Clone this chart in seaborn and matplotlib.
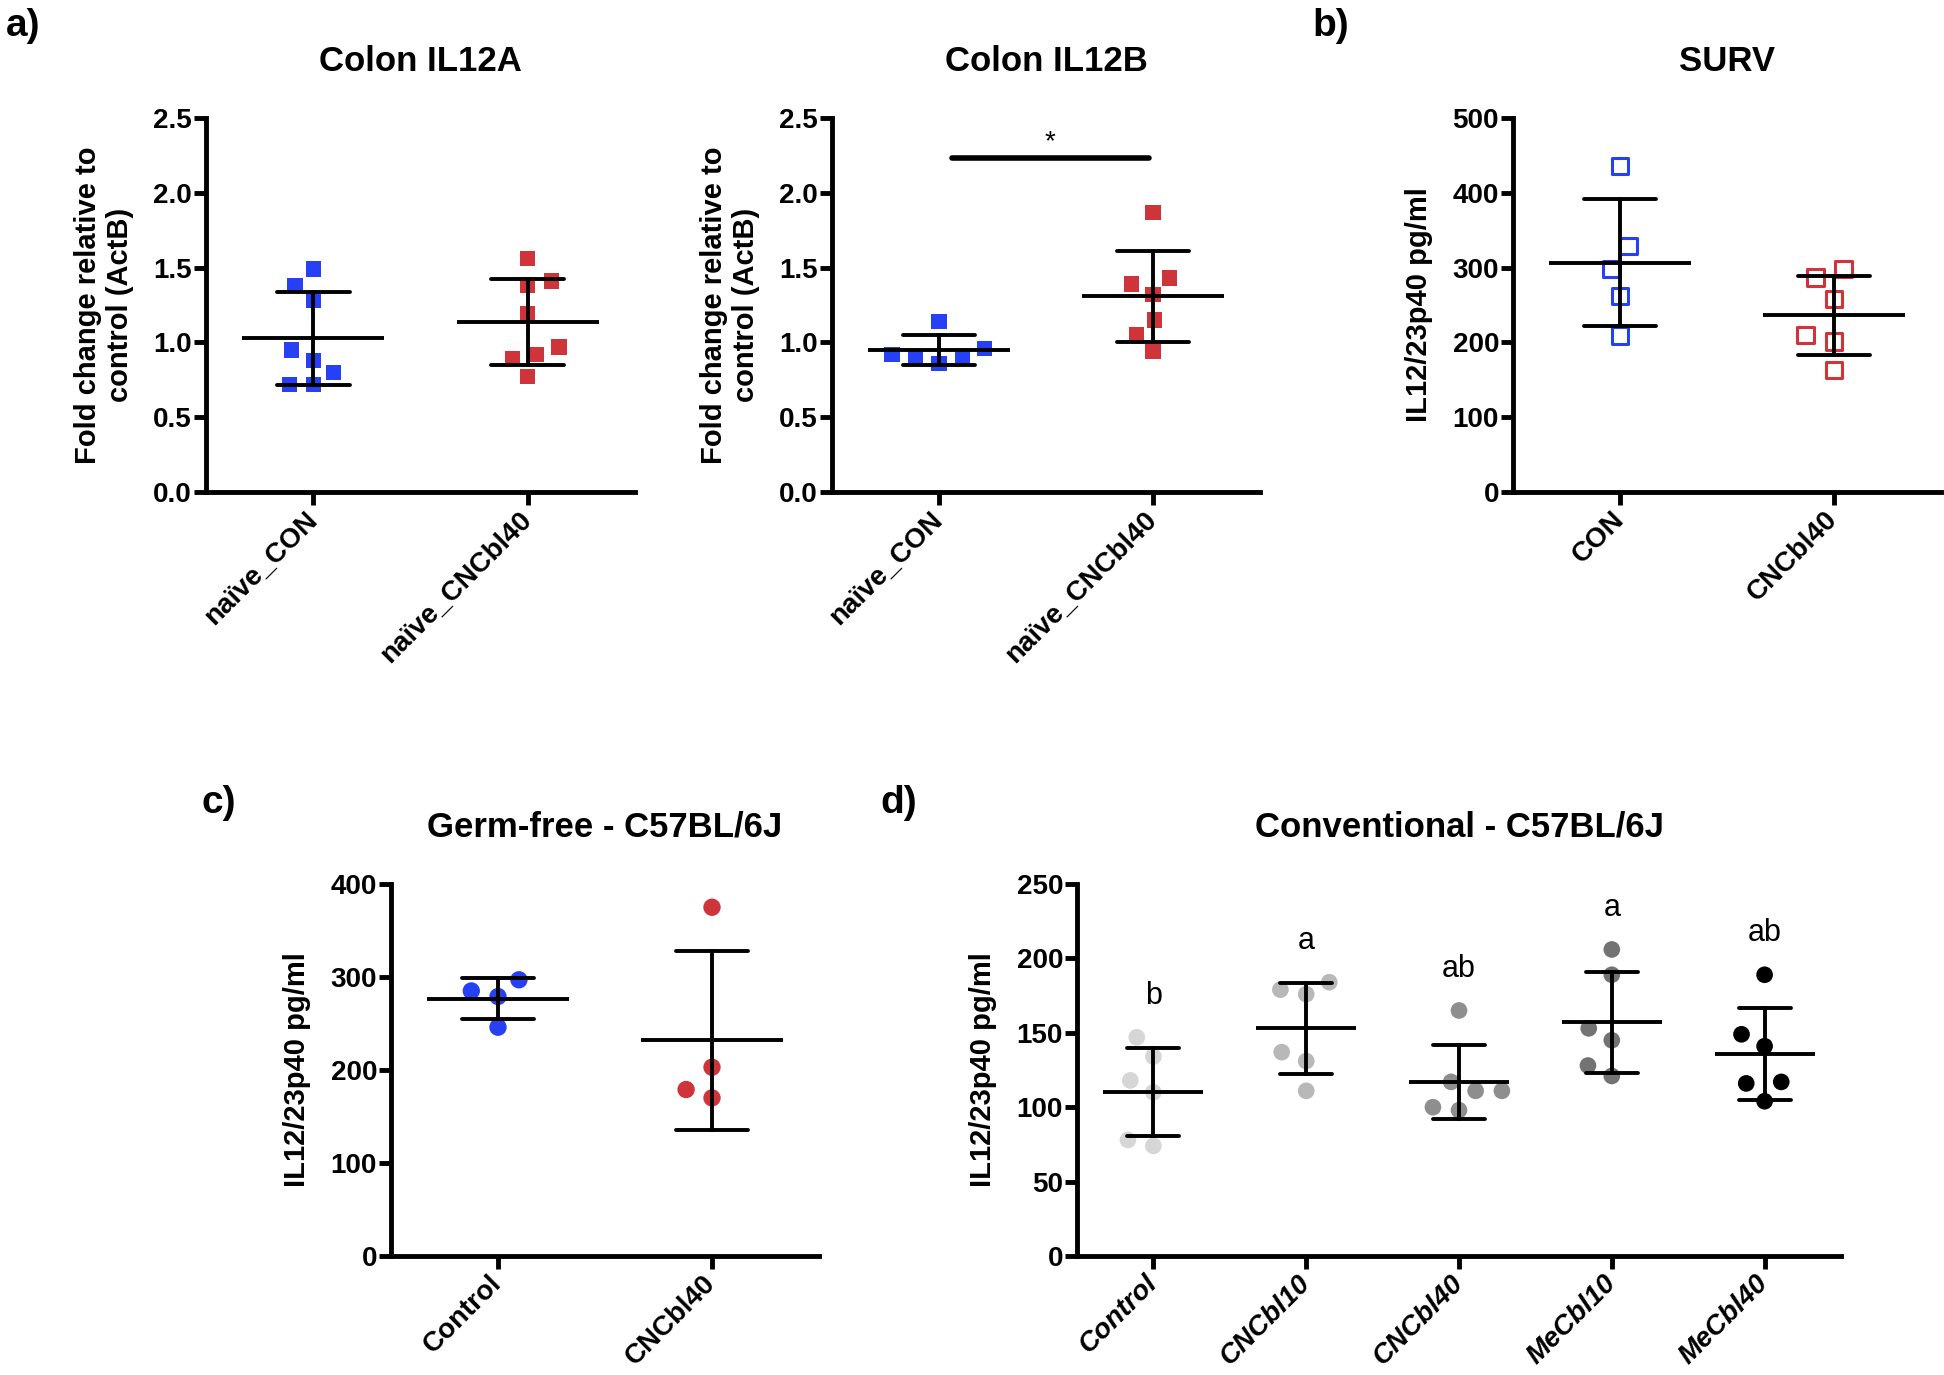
import numpy as np
import pandas as pd
import matplotlib
matplotlib.use('Agg')
import matplotlib.pyplot as plt
from matplotlib.ticker import FormatStrFormatter
import seaborn as sns

sns.set_style('ticks')
plt.rcParams['font.family'] = ['Liberation Sans', 'DejaVu Sans']
for key in ['text.color', 'axes.labelcolor', 'xtick.color', 'ytick.color', 'axes.edgecolor']:
    plt.rcParams[key] = 'black'

# a) colon qPCR, fold change relative to control (ActB)
a_groups = ['naïve_CON', 'naïve_CNCbl40']
il12a_con = [1.49, 1.38, 1.28, 0.95, 0.88, 0.80, 0.72, 0.72]
il12a_cncbl40 = [1.56, 1.41, 1.38, 1.19, 0.97, 0.92, 0.89, 0.77]
il12b_con = [1.14, 0.96, 0.92, 0.90, 0.90, 0.86]
il12b_cncbl40 = [1.87, 1.43, 1.39, 1.32, 1.15, 1.05, 0.94]

# b) SURV, IL12/23p40 pg/ml
b_groups = ['CON', 'CNCbl40']
surv_con = [436, 329, 298, 262, 209]
surv_cncbl40 = [298, 287, 258, 210, 201, 163]

# c) germ-free C57BL/6J
c_groups = ['Control', 'CNCbl40']
gf_control = [297, 285, 279, 246]
gf_cncbl40 = [375, 203, 179, 170]

# d) conventional C57BL/6J
d_groups = ['Control', 'CNCbl10', 'CNCbl40', 'MeCbl10', 'MeCbl40']
conv_control = [147, 134, 118, 110, 78, 74]
conv_cncbl10 = [184, 179, 176, 137, 131, 111]
conv_cncbl40 = [165, 117, 111, 111, 100, 98]
conv_mecbl10 = [206, 189, 153, 145, 128, 121]
conv_mecbl40 = [189, 149, 141, 117, 116, 104]
d_letters = ['b', 'a', 'ab', 'a', 'ab']

BLUE = '#2540f5'
RED = '#cf343a'
GREYS = ['#d6d6d6', '#b8b8b8', '#8e8e8e', '#737373', '#000000']

W, H, DPI = 1944, 1375, 100
fig = plt.figure(figsize=(W / DPI, H / DPI), dpi=DPI)
swarms = []  # (collection, final marker size) - swarm is laid out wider, then shrunk


def add_ax(x0, y0, x1, y1):
    # pixel box -> figure fraction
    return fig.add_axes([x0 / W, 1 - y1 / H, (x1 - x0) / W, (y1 - y0) / H])


def long_df(groups, values):
    return pd.DataFrame({'group': np.repeat(groups, [len(v) for v in values]),
                         'value': np.concatenate(values)})


def panel(ax, groups, values, colors, marker, size, ymax, ystep, fmt,
          title, ylabel, hollow=False, italic=False):
    df = long_df(groups, values)
    n0 = len(ax.collections)
    sns.swarmplot(data=df, x='group', y='value', order=groups, hue='group',
                  hue_order=groups, palette=colors, marker=marker, size=size * 1.5,
                  linewidth=0, legend=False, ax=ax, zorder=1)
    for coll in ax.collections[n0:]:
        if hollow:
            coll.set_edgecolors(coll.get_facecolors())
            coll.set_facecolors('white')
            coll.set_linewidth(2.2)
        swarms.append((coll, size))
    # mean line ~2/3 of the category width, SD error bars with caps
    ms = 0.66 * ax.get_position().width * W / len(groups) * 72 / DPI
    sns.pointplot(data=df, x='group', y='value', order=groups, errorbar='sd',
                  capsize=0.34, color='black', markers='_', linestyles='none',
                  markersize=ms, markeredgewidth=2.8,
                  err_kws={'linewidth': 2.8}, ax=ax)

    ax.set_xlim(-0.5, len(groups) - 0.5)
    ax.set_ylim(0, ymax)
    ax.set_yticks(np.arange(0, ymax + ystep / 2, ystep))
    ax.yaxis.set_major_formatter(FormatStrFormatter(fmt))
    sns.despine(ax=ax)
    for s in ['left', 'bottom']:
        ax.spines[s].set_linewidth(3.5)
    ax.tick_params(width=3.5, length=9, labelsize=20)
    ax.tick_params(axis='y', pad=1)
    ax.tick_params(axis='x', pad=8)
    for lab in ax.get_yticklabels():
        lab.set_fontweight('bold')
    ax.set_xticks(range(len(groups)))
    ax.set_xticklabels(groups, rotation=45, ha='right', va='center',
                       rotation_mode='anchor', fontsize=20, fontweight='bold',
                       fontstyle='italic' if italic else 'normal')
    ax.set_xlabel('')
    ax.set_ylabel(ylabel, fontsize=21, fontweight='bold', labelpad=14)
    ax.set_title(title, fontsize=25, fontweight='bold', pad=34)
    return ax


fold_lab = 'Fold change relative to\ncontrol (ActB)'
pg_lab = 'IL12/23p40 pg/ml'

ax1 = add_ax(206, 118, 635, 492)
panel(ax1, a_groups, [il12a_con, il12a_cncbl40], [BLUE, RED], 's', 11,
      2.5, 0.5, '%.1f', 'Colon IL12A', fold_lab)

ax2 = add_ax(832, 118, 1260, 492)
panel(ax2, a_groups, [il12b_con, il12b_cncbl40], [BLUE, RED], 's', 11,
      2.5, 0.5, '%.1f', 'Colon IL12B', fold_lab)
ax2.plot([0.06, 0.98], [2.23, 2.23], color='black', lw=4,
         solid_capstyle='round')
ax2.text(0.52, 2.29, '*', ha='center', va='baseline', fontsize=20)

ax3 = add_ax(1513, 118, 1941, 492)
panel(ax3, b_groups, [surv_con, surv_cncbl40], [BLUE, RED], 's', 12,
      500, 100, '%d', 'SURV', pg_lab, hollow=True)

ax4 = add_ax(391, 884, 819, 1256)
panel(ax4, c_groups, [gf_control, gf_cncbl40], [BLUE, RED], 'o', 12.5,
      400, 100, '%d', 'Germ-free - C57BL/6J', pg_lab)

d_values = [conv_control, conv_cncbl10, conv_cncbl40, conv_mecbl10, conv_mecbl40]
ax5 = add_ax(1077, 884, 1841, 1256)
panel(ax5, d_groups, d_values, GREYS, 'o', 12,
      250, 50, '%d', 'Conventional - C57BL/6J', pg_lab, italic=True)
for i, (vals, letter) in enumerate(zip(d_values, d_letters)):
    ax5.text(i, max(vals) + 28, letter, ha='center', va='center', fontsize=22)

for lab, x, y in [('a)', 6, 8), ('b)', 1312, 8), ('c)', 201, 785), ('d)', 880, 785)]:
    fig.text(x / W, 1 - y / H, lab, ha='left', va='top', fontsize=28,
             fontweight='bold')

# lay the swarms out once with the wider spacing, then freeze and shrink markers
fig.canvas.draw()
for coll, size in swarms:
    if 'draw' in coll.__dict__:
        del coll.draw
    coll.set_sizes([size ** 2])

fig.savefig('out.png', dpi=DPI)
